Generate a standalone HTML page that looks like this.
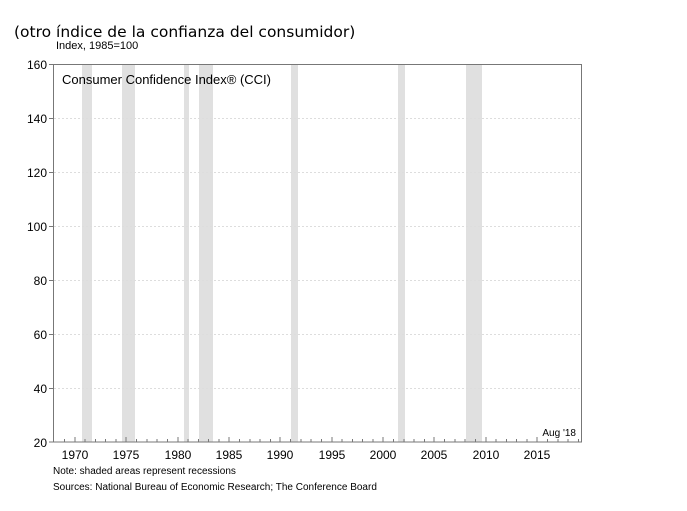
<!DOCTYPE html>
<html><head><style>
body{margin:0;background:#fff;width:687px;height:511px;overflow:hidden;position:relative;font-family:"Liberation Sans",sans-serif;}
.t{position:absolute;white-space:nowrap;color:#000;}
</style></head><body>
<div class="t" style="left:14px;top:23px;font-family:'DejaVu Sans',sans-serif;font-size:15.5px;">(otro índice de la confianza del consumidor)</div>
<div class="t" style="left:56px;top:40px;font-size:11px;">Index, 1985=100</div>
<svg width="687" height="511" style="position:absolute;left:0;top:0" font-family="Liberation Sans, sans-serif">
<g fill="#e0e0e0">
<rect x="82" y="65" width="10" height="377"/>
<rect x="122" y="65" width="13" height="377"/>
<rect x="184" y="65" width="5" height="377"/>
<rect x="199" y="65" width="14" height="377"/>
<rect x="291" y="65" width="7" height="377"/>
<rect x="398" y="65" width="7" height="377"/>
<rect x="466" y="65" width="16" height="377"/>
</g>
<g stroke="#ddd" stroke-dasharray="2,2" stroke-width="1">
<line x1="54" x2="581" y1="118.5" y2="118.5"/>
<line x1="54" x2="581" y1="172.5" y2="172.5"/>
<line x1="54" x2="581" y1="226.5" y2="226.5"/>
<line x1="54" x2="581" y1="280.5" y2="280.5"/>
<line x1="54" x2="581" y1="334.5" y2="334.5"/>
<line x1="54" x2="581" y1="388.5" y2="388.5"/>
</g>
<rect x="53.5" y="64.5" width="528" height="377.5" fill="none" stroke="#777" stroke-width="1"/>
<g stroke="#777">
<line x1="49" x2="54" y1="64.5" y2="64.5"/><line x1="49" x2="54" y1="118.5" y2="118.5"/>
<line x1="49" x2="54" y1="172.5" y2="172.5"/><line x1="49" x2="54" y1="226.5" y2="226.5"/>
<line x1="49" x2="54" y1="280.5" y2="280.5"/><line x1="49" x2="54" y1="334.5" y2="334.5"/>
<line x1="49" x2="54" y1="388.5" y2="388.5"/><line x1="49" x2="54" y1="442" y2="442"/>
<path d="M64.5 442v-3M75 442v-5M85 442v-3M95.5 442v-3M105.5 442v-3M116 442v-3M126 442v-5M136.5 442v-3M147 442v-3M157 442v-3M167.5 442v-3M178 442v-5M188 442v-3M198.5 442v-3M208.5 442v-3M219 442v-3M229 442v-5M239.5 442v-3M250 442v-3M260 442v-3M270.5 442v-3M280 442v-5M290.5 442v-3M301 442v-3M311 442v-3M321.5 442v-3M332 442v-5M342 442v-3M352.5 442v-3M362.5 442v-3M373 442v-3M383 442v-5M393.5 442v-3M404 442v-3M414 442v-3M424.5 442v-3M434 442v-5M444.5 442v-3M455 442v-3M465 442v-3M475.5 442v-3M486 442v-5M496 442v-3M506.5 442v-3M516.5 442v-3M527 442v-3M537 442v-5M547.5 442v-3M558 442v-3M568 442v-3M578.5 442v-3"/>
</g>
<g font-size="12" text-anchor="end">
<text x="47" y="69">160</text><text x="47" y="123">140</text><text x="47" y="177">120</text>
<text x="47" y="231">100</text><text x="47" y="285">80</text><text x="47" y="339">60</text>
<text x="47" y="393">40</text><text x="47" y="447">20</text>
</g>
<g font-size="12" text-anchor="middle">
<text x="75" y="459">1970</text><text x="126" y="459">1975</text><text x="178" y="459">1980</text>
<text x="229" y="459">1985</text><text x="280" y="459">1990</text><text x="332" y="459">1995</text>
<text x="383" y="459">2000</text><text x="434" y="459">2005</text><text x="486" y="459">2010</text>
<text x="537" y="459">2015</text>
</g>
<text x="62" y="84" font-size="13">Consumer Confidence Index® (CCI)</text>
<text x="576" y="436" font-size="10" text-anchor="end">Aug '18</text>
<text x="53" y="474" font-size="10">Note: shaded areas represent recessions</text>
<text x="53" y="490" font-size="10">Sources: National Bureau of Economic Research; The Conference Board</text>
</svg>
</body></html>
